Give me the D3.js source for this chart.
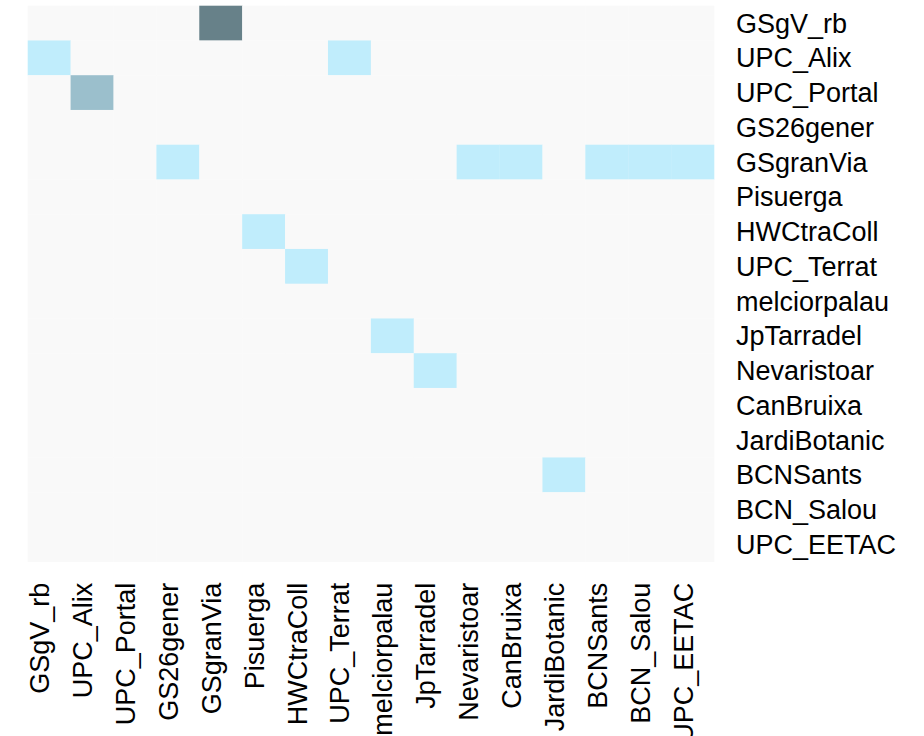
<!DOCTYPE html>
<html>
<head>
<meta charset="utf-8">
<script src="https://cdn.jsdelivr.net/npm/d3@7"></script>
<style>
  body { margin: 0; background: #fff; }
  text { font-family: "Liberation Sans", Arial, Helvetica, sans-serif; fill: #000; }
</style>
</head>
<body>
<script>
const width = 924;
const height = 736;

// station names (same order on both axes)
const stations = ['GSgV_rb', 'UPC_Alix', 'UPC_Portal', 'GS26gener', 'GSgranVia', 'Pisuerga',
    'HWCtraColl', 'UPC_Terrat', 'melciorpalau', 'JpTarradel', 'Nevaristoar', 'CanBruixa',
    'JardiBotanic', 'BCNSants', 'BCN_Salou', 'UPC_EETAC'];

// rows = stations (right labels), columns = stations (bottom labels)
const counts = [
    [0,0,0,0,3,0,0,0,0,0,0,0,0,0,0,0],
    [1,0,0,0,0,0,0,1,0,0,0,0,0,0,0,0],
    [0,2,0,0,0,0,0,0,0,0,0,0,0,0,0,0],
    [0,0,0,0,0,0,0,0,0,0,0,0,0,0,0,0],
    [0,0,0,1,0,0,0,0,0,0,1,1,0,1,1,1],
    [0,0,0,0,0,0,0,0,0,0,0,0,0,0,0,0],
    [0,0,0,0,0,1,0,0,0,0,0,0,0,0,0,0],
    [0,0,0,0,0,0,1,0,0,0,0,0,0,0,0,0],
    [0,0,0,0,0,0,0,0,0,0,0,0,0,0,0,0],
    [0,0,0,0,0,0,0,0,1,0,0,0,0,0,0,0],
    [0,0,0,0,0,0,0,0,0,1,0,0,0,0,0,0],
    [0,0,0,0,0,0,0,0,0,0,0,0,0,0,0,0],
    [0,0,0,0,0,0,0,0,0,0,0,0,0,0,0,0],
    [0,0,0,0,0,0,0,0,0,0,0,0,1,0,0,0],
    [0,0,0,0,0,0,0,0,0,0,0,0,0,0,0,0],
    [0,0,0,0,0,0,0,0,0,0,0,0,0,0,0,0]
];

const colorSteps = [0, 1, 2, 3];
const colorValues = ['#f9f9f9', '#c0edfc', '#9bbfcc', '#678189'];

const margin = {top: 5.7, left: 27.7, right: 210, bottom: 174.3};

const x = d3.scaleBand()
    .domain(stations)
    .range([margin.left, width - margin.right]);

const y = d3.scaleBand()
    .domain(stations)
    .range([margin.top, height - margin.bottom]);

const color = d3.scaleLinear()
    .domain(colorSteps)
    .range(colorValues);

const cells = [];
counts.forEach((row, i) => {
    row.forEach((v, j) => {
        cells.push({row: stations[i], col: stations[j], value: v});
    });
});

const svg = d3.select("body")
    .append("svg")
    .attr("width", width)
    .attr("height", height);

svg.append("g")
    .selectAll("rect")
    .data(cells)
    .enter()
    .append("rect")
    .attr("x", d => x(d.col))
    .attr("y", d => y(d.row))
    .attr("width", x.bandwidth() + 0.3)
    .attr("height", y.bandwidth() + 0.3)
    .style("fill", d => color(d.value));

// right side labels
svg.append("g")
    .attr("transform", `translate(${x.range()[1]},0)`)
    .call(d3.axisRight(y).tickSize(0).tickPadding(22))
    .call(g => g.select(".domain").remove())
    .selectAll("text")
    .style("font-size", "27px")
    .attr("dy", "0.35em");

// bottom labels, rotated
svg.append("g")
    .attr("transform", `translate(0,${y.range()[1]})`)
    .call(d3.axisBottom(x).tickSize(0).tickPadding(0))
    .call(g => g.select(".domain").remove())
    .selectAll("text")
    .style("font-size", "27px")
    .style("text-anchor", "end")
    .attr("dy", "0")
    .attr("y", 0)
    .attr("x", 0)
    .attr("transform", "translate(0,21) rotate(-90)");
</script>
</body>
</html>
